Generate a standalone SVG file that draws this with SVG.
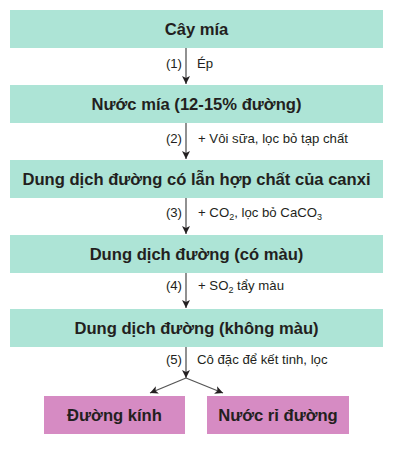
<svg xmlns="http://www.w3.org/2000/svg" width="401" height="450" viewBox="0 0 401 450">
<style>
.box{fill:#ade4d6}
.pink{fill:#d68bc3}
.t{font-family:"Liberation Sans",Arial,sans-serif;font-weight:bold;font-size:16.6px;fill:#231f20;text-anchor:middle}
.l{font-family:"Liberation Sans",Arial,sans-serif;font-size:13.2px;fill:#231f20}
.n{text-anchor:end}
.c{stroke:#555;stroke-width:1.3;fill:none}
</style>
<defs>
<marker id="ah" viewBox="0 0 8 10" refX="8" refY="5" markerWidth="8" markerHeight="10" markerUnits="userSpaceOnUse" orient="auto">
<path d="M0,1 L8,5 L0,9 L2,5 Z" fill="#231f20"/>
</marker>
</defs>
<g id="n1"><rect class="box" x="10" y="10" width="373" height="38"/><text class="t" x="196.5" y="35">Cây mía</text></g>
<g id="n2"><rect class="box" x="10" y="85" width="373" height="38"/><text class="t" x="196.5" y="110">Nước mía (12-15% đường)</text></g>
<g id="n3"><rect class="box" x="10" y="160" width="373" height="38"/><text class="t" x="196.5" y="185">Dung dịch đường có lẫn hợp chất của canxi</text></g>
<g id="n4"><rect class="box" x="10" y="235" width="373" height="38"/><text class="t" x="196.5" y="260">Dung dịch đường (có màu)</text></g>
<g id="n5"><rect class="box" x="10" y="309" width="373" height="38"/><text class="t" x="196.5" y="334">Dung dịch đường (không màu)</text></g>
<g id="n6"><rect class="pink" x="44" y="396" width="141" height="38"/><text class="t" x="114.5" y="421">Đường kính</text></g>
<g id="n7"><rect class="pink" x="207" y="396" width="142" height="38"/><text class="t" x="278" y="421">Nước rỉ đường</text></g>
<g id="connectors">
<line class="c" x1="186" y1="48" x2="186" y2="84" marker-end="url(#ah)"/>
<line class="c" x1="186" y1="123" x2="186" y2="159" marker-end="url(#ah)"/>
<line class="c" x1="186" y1="198" x2="186" y2="234" marker-end="url(#ah)"/>
<line class="c" x1="186" y1="273" x2="186" y2="308" marker-end="url(#ah)"/>
<line class="c" x1="186" y1="347" x2="186" y2="378" marker-end="url(#ah)"/>
<line class="c" x1="186" y1="378" x2="150" y2="393" marker-end="url(#ah)"/>
<line class="c" x1="186" y1="378" x2="223" y2="393" marker-end="url(#ah)"/>
</g>
<g id="labels">
<text class="l n" x="182" y="68">(1)</text><text class="l" x="197" y="68">Ép</text>
<text class="l n" x="182" y="143">(2)</text><text class="l" x="198" y="143">+ Vôi sữa, lọc bỏ tạp chất</text>
<text class="l n" x="182" y="217">(3)</text><text class="l" x="198" y="217">+ CO<tspan font-size="9" dy="3">2</tspan><tspan dy="-3">, lọc bỏ CaCO</tspan><tspan font-size="9" dy="3">3</tspan></text>
<text class="l n" x="182" y="290">(4)</text><text class="l" x="198" y="290">+ SO<tspan font-size="9" dy="3">2</tspan><tspan dy="-3"> tẩy màu</tspan></text>
<text class="l n" x="182" y="364">(5)</text><text class="l" x="197" y="364">Cô đặc để kết tinh, lọc</text>
</g>
</svg>
